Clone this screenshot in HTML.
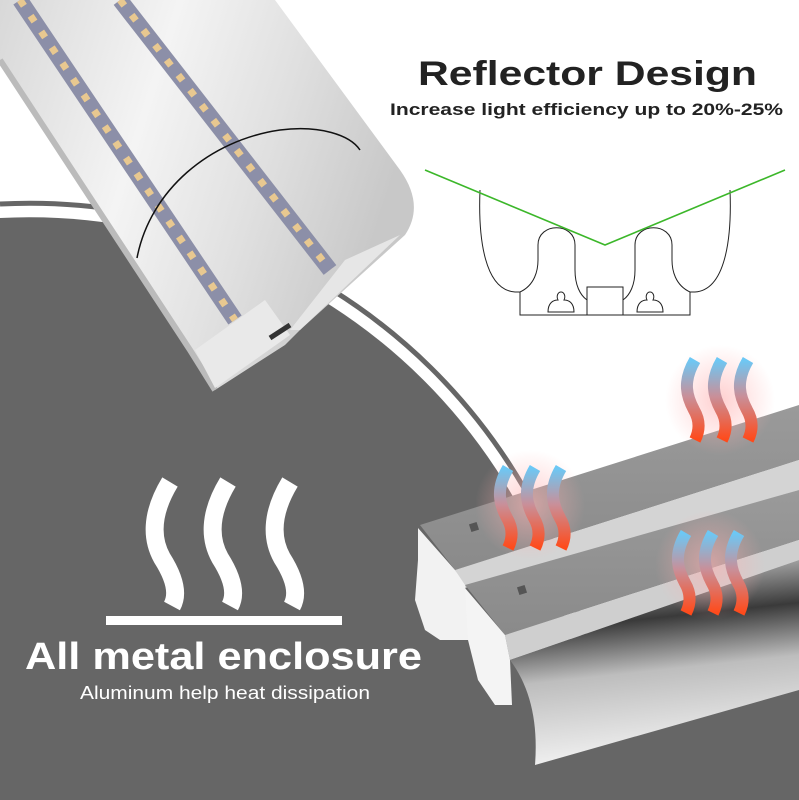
<!DOCTYPE html>
<html><head><style>
html,body{margin:0;padding:0;overflow:hidden}
body{width:799px;height:800px;overflow:hidden;background:#fff;font-family:"Liberation Sans",sans-serif}
svg{display:block}
</style></head><body>
<svg width="799" height="800" viewBox="0 0 799 800" xmlns="http://www.w3.org/2000/svg">
<defs>
<linearGradient id="tg" x1="0" y1="0" x2="1" y2="0.3">
<stop offset="0" stop-color="#d8d8d8"/><stop offset="0.4" stop-color="#f4f4f4"/><stop offset="0.7" stop-color="#e0e0e0"/><stop offset="1" stop-color="#c8c8c8"/></linearGradient>
<linearGradient id="face" x1="0" y1="0" x2="0" y2="1">
<stop offset="0" stop-color="#9a9a9a"/><stop offset="1" stop-color="#8a8a8a"/></linearGradient>
<linearGradient id="refl" x1="0" y1="0" x2="0.15" y2="1">
<stop offset="0" stop-color="#e8e8e8"/><stop offset="0.35" stop-color="#3a3a3a"/><stop offset="0.6" stop-color="#bdbdbd"/><stop offset="1" stop-color="#f0f0f0"/></linearGradient>
<linearGradient id="heat" x1="0" y1="0" x2="0" y2="1">
<stop offset="0" stop-color="#6cc8f5"/><stop offset="0.45" stop-color="#c8909a"/><stop offset="1" stop-color="#ff4a1a"/></linearGradient>
<radialGradient id="glow"><stop offset="0" stop-color="#ffb0b0" stop-opacity="0.6"/><stop offset="1" stop-color="#ffb0b0" stop-opacity="0"/></radialGradient>
</defs>
<rect width="799" height="800" fill="#fff"/>
<path d="M0,204 A572,572 0 0 1 601,795" fill="none" stroke="#666" stroke-width="5"/>
<path d="M0,800 L0,218 A558,558 0 0 1 587,800 Z" fill="#666"/>
<path d="M500,700 L799,640 L799,800 L500,800 Z" fill="#666"/>

<path d="M0,0 L275,0 L400,170 Q425,205 405,235 L300,330 L285,345 L215,390 L190,350 L0,60 Z" fill="url(#tg)"/>
<path d="M0,60 L190,350 L215,390" fill="none" stroke="#bbb" stroke-width="6"/>
<path d="M20,0 L235,320" stroke="#8c8fa8" stroke-width="16"/>
<path d="M120,0 L330,270" stroke="#8c8fa8" stroke-width="16"/>
<path d="M20,0 L235,320" stroke="#e8c890" stroke-width="7" stroke-dasharray="7,12"/>
<path d="M120,0 L330,270" stroke="#e8c890" stroke-width="7" stroke-dasharray="7,12"/>
<path d="M195,350 L265,300 L290,335 L215,388 Z" fill="#e9e9e9"/>
<path d="M290,330 L345,260 L400,235 L300,330 Z" fill="#e6e6e6"/>
<path d="M270,338 L290,325" stroke="#333" stroke-width="5"/>
<path d="M137,258 C150,190 210,140 280,130 C320,125 350,135 360,150" fill="none" stroke="#111" stroke-width="1.5"/>

<text x="418" y="85" font-size="34" font-weight="bold" fill="#222" textLength="339" lengthAdjust="spacingAndGlyphs">Reflector Design</text>
<text x="390" y="115" font-size="17" font-weight="bold" fill="#222" textLength="393" lengthAdjust="spacingAndGlyphs">Increase light efficiency up to 20%-25%</text>

<g fill="none" stroke="#222" stroke-width="1">
<path d="M480,190 C478,240 485,290 515,292 L520,292 L520,315 L690,315 L690,292 L695,292 C725,290 732,240 730,190"/>
<path d="M520,292 C535,285 538,270 538,260 L538,245 C538,222 575,222 575,245 L575,270 C575,285 580,295 587,300 L587,315 M623,315 L623,300 C630,295 635,285 635,270 L635,245 C635,222 672,222 672,245 L672,260 C672,270 675,285 690,292"/>
<rect x="587" y="287" width="36" height="28"/>
<path d="M548,312 C548,303 553,300 558,300 C556,296 558,292 561,292 C564,292 566,296 564,300 C569,300 574,303 574,312 Z"/>
<path d="M637,312 C637,303 642,300 647,300 C645,296 647,292 650,292 C653,292 655,296 653,300 C658,300 663,303 663,312 Z"/>
</g>
<path d="M425,170 L605,245 L785,170" fill="none" stroke="#3cb72a" stroke-width="1.6"/>

<path d="M420,525 L799,405 L799,460 L455,570 Z" fill="url(#face)"/>
<path d="M455,570 L799,460 L799,490 L465,588 Z" fill="#d4d4d4"/>
<path d="M465,585 L799,490 L799,540 L505,635 Z" fill="url(#face)"/>
<path d="M505,635 L799,540 L799,560 L510,660 Z" fill="#cfcfcf"/>
<path d="M510,660 L799,560 L799,690 L535,765 Q540,700 510,660 Z" fill="url(#refl)"/>
<path d="M418,528 L455,570 L465,585 L470,640 L455,640 L440,640 L425,630 L415,600 L418,560 Z" fill="#f2f2f2"/>
<path d="M465,588 L505,635 L510,660 L512,705 L495,705 L478,680 L468,640 Z" fill="#f4f4f4"/>
<rect x="470" y="523" width="8" height="8" fill="#555" transform="rotate(-18 474 527)"/>
<rect x="518" y="586" width="8" height="8" fill="#555" transform="rotate(-18 522 590)"/>

<g fill="none" stroke="url(#heat)" stroke-width="12">
<ellipse cx="530" cy="505" rx="55" ry="55" fill="url(#glow)" stroke="none"/>
<ellipse cx="720" cy="400" rx="55" ry="55" fill="url(#glow)" stroke="none"/>
<ellipse cx="710" cy="565" rx="55" ry="55" fill="url(#glow)" stroke="none"/>
<g id="hw"><path d="M508,468 C495,490 500,505 507,518 C514,530 512,540 508,548"/><path d="M535,468 C522,490 527,505 534,518 C541,530 539,540 535,548"/><path d="M561,468 C548,490 553,505 560,518 C567,530 565,540 561,548"/></g>
<use href="#hw" transform="translate(187,-108)"/>
<use href="#hw" transform="translate(178,65)"/>
</g>

<g fill="none" stroke="#fff" stroke-width="18">
<path d="M170,482 C150,515 152,540 162,558 C176,580 178,595 172,606"/>
<path d="M228,482 C208,515 210,540 220,558 C234,580 236,595 230,606"/>
<path d="M290,482 C270,515 272,540 282,558 C296,580 298,595 292,606"/>
</g>
<rect x="106" y="616" width="236" height="9" fill="#fff"/>
<text x="25" y="669" font-size="38" font-weight="bold" fill="#fff" textLength="397" lengthAdjust="spacingAndGlyphs">All metal enclosure</text>
<text x="80" y="699" font-size="18" fill="#fff" textLength="290" lengthAdjust="spacingAndGlyphs">Aluminum help heat dissipation</text>
</svg>
</body></html>
